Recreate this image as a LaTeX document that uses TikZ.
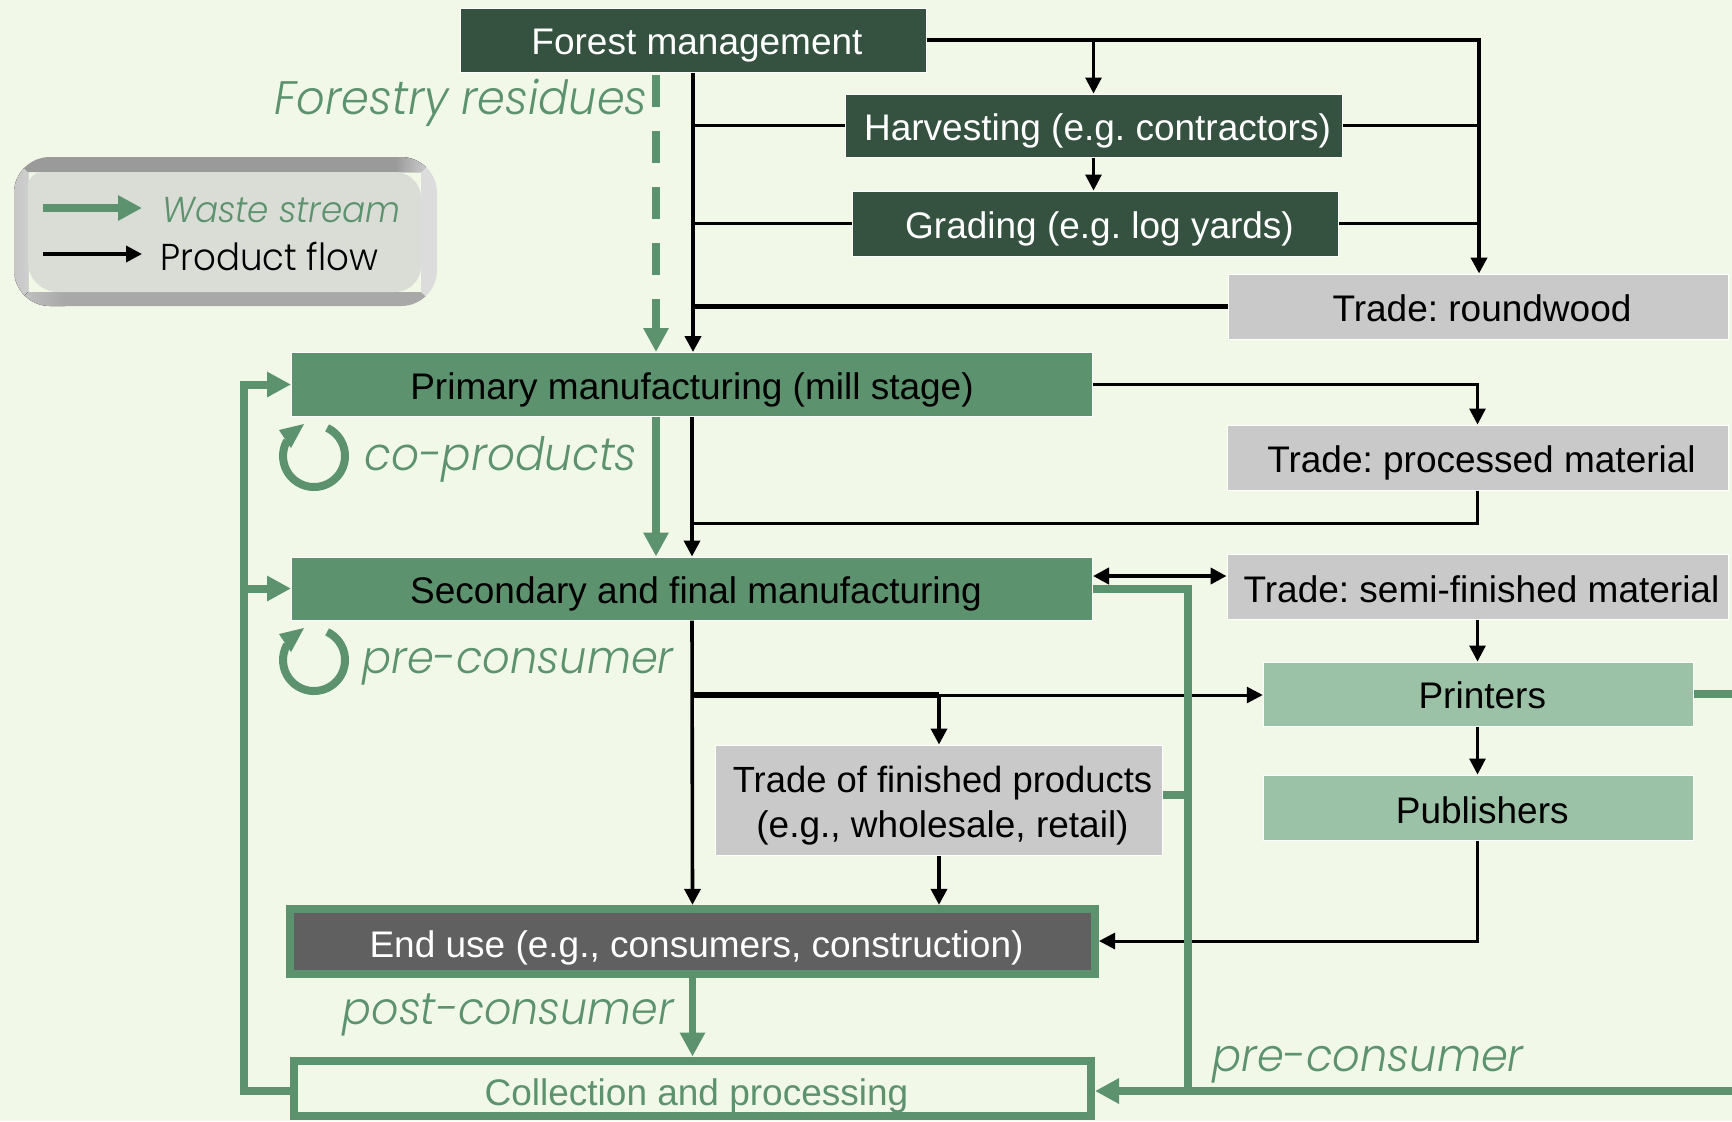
\documentclass[tikz,border=0pt]{standalone}
\usepackage{fontspec}
\setmainfont{Liberation Sans}
\newfontfamily\geo[UprightFont=* Light,ItalicFont=* Light Italic,FakeStretch=0.95]{Poppins}
\usetikzlibrary{arrows.meta,calc}
\definecolor{bgc}{HTML}{F1F8E8}
\definecolor{darkg}{HTML}{34523F}
\definecolor{midg}{HTML}{5C926E}
\definecolor{lightg}{HTML}{9BC1A7}
\definecolor{greyb}{HTML}{C9C9C9}
\definecolor{endb}{HTML}{606060}
\definecolor{legface}{HTML}{DADCD6}
\definecolor{legtop}{HTML}{9A9A9A}
\definecolor{legbot}{HTML}{A8A8A8}
\definecolor{legleft}{HTML}{C6C6C6}
\definecolor{legright}{HTML}{DCDCDC}
\newcommand{\nudge}[2]{\raisebox{-#1pt}[0pt][0pt]{\hspace*{4pt}#2}}
\tikzset{
  x=0.5pt,y=-0.5pt,
  boxn/.style={draw=white,line width=0.5pt,inner sep=0pt,font=\fontsize{18.5}{22.5}\selectfont\frenchspacing,align=center},
  forestbox/.style={boxn,fill=darkg,text=white},
  greenbox/.style={boxn,fill=midg,text=black},
  tradebox/.style={boxn,fill=greyb,text=black},
  pubbox/.style={boxn,fill=lightg,text=black},
  endbox/.style={boxn,draw=midg,line width=4pt,fill=endb,text=white},
  collbox/.style={boxn,draw=midg,line width=4pt,fill=bgc,text=midg},
  thinflow/.style={draw=black,line width=1.5pt},
  midflow/.style={draw=black,line width=1.8pt},
  thickflow/.style={draw=black,line width=2.2pt},
  flowtip/.style={-{Triangle[length=8pt,width=8pt]}},
  waste/.style={draw=midg,line width=4pt},
  wastetip/.style={-{Triangle[length=12pt,width=12pt]}},
  geolabel/.style={font=\geo\itshape\fontsize{23}{27}\selectfont,text=midg,inner sep=0pt},
}
\begin{document}
\begin{tikzpicture}
\useasboundingbox (0,0) rectangle (1732,1121);
\clip (0,0) rectangle (1732,1121);
\fill[bgc] (0,0) rectangle (1732,1121);

% legend
\begin{scope}
  \clip[rounded corners=18pt] (14,157) rectangle (437,306);
  \fill[legtop] (14,157) -- (395,157) -- (395,172) -- (28,172) -- cycle;
  \fill[left color=legtop,right color=legright] (395,157) -- (437,157) -- (421,172) -- (395,172) -- cycle;
  \fill[left color=legleft,right color=legleft!85!white] (14,157) -- (28,172) -- (28,292) -- (14,306) -- cycle;
  \fill[left color=legleft,right color=legbot] (14,306) -- (65,306) -- (65,292) -- (28,292) -- cycle;
  \fill[legbot] (65,306) -- (437,306) -- (421,292) -- (65,292) -- cycle;
  \fill[legright] (421,172) -- (437,157) -- (437,306) -- (421,292) -- cycle;
\end{scope}
\fill[legface] (28,232) [rounded corners=7pt] -- (28,172) [rounded corners=13pt] -- (421,172) -- (421,292) [rounded corners=15pt] -- (28,292) -- cycle;
\coordinate (legwa) at (43,208);
\coordinate (legwb) at (142,208);
\coordinate (legpa) at (43,254);
\coordinate (legpb) at (142,254);
\draw[waste,wastetip] (legwa) -- (legwb);
\draw[midflow,flowtip] (legpa) -- (legpb);
\node[geolabel,anchor=west,font=\geo\itshape\fontsize{18}{22}\selectfont] (legw) at (162,210) {Waste stream};
\node[geolabel,anchor=west,font=\geo\fontsize{18.7}{23}\selectfont,text=black] (legp) at (160,256) {Product flow};

% boxes
\node[forestbox,minimum width=233pt,minimum height=32pt] (forest) at (693,40) {\nudge{7}{Forest management}};
\node[forestbox,minimum width=248.5pt,minimum height=31.5pt] (harvest) at (1093.5,125.5) {\nudge{7.5}{Harvesting (e.g. contractors)}};
\node[forestbox,minimum width=243pt,minimum height=32.5pt] (grading) at (1095.5,223.5) {\nudge{7.3}{Grading (e.g. log yards)}};
\node[tradebox,minimum width=250pt,minimum height=32.5pt] (round) at (1478,306.5) {\nudge{7.3}{Trade: roundwood}};
\node[tradebox,minimum width=250.5pt,minimum height=32.5pt] (processed) at (1477.5,457.5) {\nudge{7.5}{Trade: processed material}};
\node[tradebox,minimum width=250.5pt,minimum height=32.5pt] (semi) at (1477.5,586.5) {\nudge{7.8}{Trade: semi-finished material}};
\node[greenbox,minimum width=400.5pt,minimum height=32pt] (primary) at (692,384.5) {\raisebox{-7.5pt}[0pt][0pt]{Primary manufacturing (mill stage)}};
\node[greenbox,minimum width=400.5pt,minimum height=31.5pt] (secondary) at (692,588.5) {\nudge{7.3}{Secondary and final manufacturing}};
\node[pubbox,minimum width=215pt,minimum height=32pt] (printers) at (1478.25,694) {\nudge{7.25}{Printers}};
\node[pubbox,minimum width=215pt,minimum height=32.5pt] (publishers) at (1478.25,807.5) {\nudge{7.8}{Publishers}};
\node[tradebox,minimum width=223.5pt,minimum height=55pt] (finished) at (938.5,800) {\nudge{7.25}{\fontsize{18.2}{22.5}\selectfont Trade of finished products}\\ \nudge{7.25}{(e.g., wholesale, retail)}};
\node[endbox,minimum width=402.5pt,minimum height=32.7pt] (enduse) at (692.5,941.5) {\nudge{7.8}{End use (e.g., consumers, construction)}};
\node[collbox,minimum width=398.5pt,minimum height=27.5pt] (collect) at (692.5,1088) {\nudge{8.5}{Collection and processing}};

% named junctions
\coordinate (rbus) at (1479,40);
\coordinate (dashstart) at (656,75);
\coordinate (wasteup) at (656,416.5);
\coordinate (leftbus) at (243.6,588.5);
\coordinate (gbus) at (1188,588.5);
\coordinate (gbot) at (1188,1091);
\coordinate (redge) at (1732,1091);
\coordinate (split) at (939,695);
\coordinate (proc) at (1478,523);
\coordinate (pubcorner) at (1478,941);

% product flows
\draw[thickflow,flowtip] (forest.east) -| (rbus |- round.north);
\draw[thinflow,flowtip] (forest.east -| harvest.north) -- (harvest.north);
\draw[thinflow,flowtip] (harvest.south) -- (harvest.south |- grading.north);
\draw[thinflow] (harvest.east) -- (harvest.east -| rbus);
\draw[thinflow] (grading.east) -- (grading.east -| rbus);
\draw[thickflow,flowtip] (forest.south) -- (forest.south |- primary.north);
\draw[thinflow] (harvest.west) -- (harvest.west -| forest.south);
\draw[thinflow] (grading.west) -- (grading.west -| forest.south);
\draw[thickflow] (round.west) -- (round.west -| forest.south);
\draw[thinflow,flowtip] (primary.east) -| (processed.north);
\draw[thinflow] (processed.south) |- (proc -| primary.south);
\draw[midflow,flowtip] (primary.south) -- (secondary.north);
\draw[draw=black,line width=2pt,{Triangle[length=8pt,width=8pt]}-{Triangle[length=8pt,width=8pt]}] ([yshift=6.25pt]secondary.east) -- ([yshift=6.25pt]secondary.east -| semi.west);
\draw[midflow,flowtip] (secondary.south) -- (enduse.north);
\draw[thickflow,line width=2.6pt] (split -| secondary.south) -- (split);
\draw[thinflow,flowtip] (split) -- (split -| printers.west);
\draw[midflow,flowtip] (split) -- (split |- finished.north);
\draw[midflow,flowtip] (finished.south -| split) -- (split |- enduse.north);
\draw[thinflow,flowtip] (semi.south) -- (semi.south |- printers.north);
\draw[thinflow,flowtip] (printers.south -| semi.south) -- (publishers.north -| semi.south);
\draw[thinflow,flowtip] (publishers.south -| semi.south) |- (pubcorner -| enduse.east);

% waste flows
\draw[waste,wastetip,dash pattern=on 16pt off 12pt] (dashstart) -- (dashstart |- primary.north);
\draw[waste,wastetip] (wasteup) -- (wasteup |- secondary.north);
\draw[waste,wastetip] (collect.west |- gbot) -| (leftbus) |- (primary.west);
\draw[waste,wastetip] (leftbus) -- (secondary.west);
\draw[waste] (secondary.east) -- (gbus) -- (gbot);
\draw[waste] ([yshift=2.5pt]finished.east) -- ([yshift=2.5pt]finished.east -| gbus);
\draw[waste] (printers.east) -- (printers.east -| redge);
\draw[waste,wastetip] (redge) -- (collect.east |- redge);
\draw[waste,line width=3.5pt,wastetip] (enduse.south) -- (collect.north);

% recycling loops
\coordinate (loopa) at (314,456);
\coordinate (loopb) at (314,660);
\draw[waste] ($(loopa)+(65:15.5pt)$) arc (65:-210:15.5pt);
\fill[midg] ($(loopa)+(-10,-32)$) -- ($(loopa)+(-35,-26)$) -- ($(loopa)+(-23,-8)$) -- cycle;
\draw[waste] ($(loopb)+(65:15.5pt)$) arc (65:-210:15.5pt);
\fill[midg] ($(loopb)+(-10,-32)$) -- ($(loopb)+(-35,-26)$) -- ($(loopb)+(-23,-8)$) -- cycle;

% labels
\node[geolabel,anchor=east,font=\geo\itshape\fontsize{23.5}{27}\selectfont] (residues) at (648,103) {Forestry residues};
\node[geolabel,anchor=west] (coprod) at (364,459) {co-products};
\node[geolabel,anchor=west,font=\geo\itshape\fontsize{22.7}{27}\selectfont] (precons) at (362,667) {pre-consumer};
\node[geolabel,anchor=east,font=\geo\itshape\fontsize{22.5}{27}\selectfont] (postcons) at (674,1015) {post-consumer};
\node[geolabel,anchor=west,font=\geo\itshape\fontsize{22.7}{27}\selectfont] (preconsb) at (1212,1065) {pre-consumer};
\end{tikzpicture}
\end{document}
